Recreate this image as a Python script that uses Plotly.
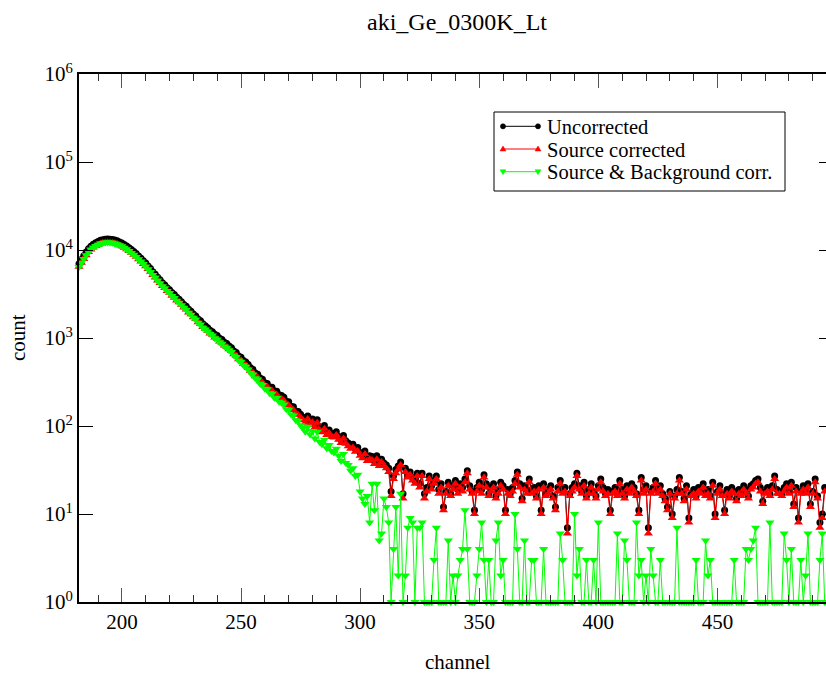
import plotly.graph_objects as go

title_text = "aki_Ge_0300K_Lt"
x_label = "channel"
y_label = "count"
series_names = ["Uncorrected", "Source corrected", "Source & Background corr."]
first_channel = 182

uncorrected = [
    7000, 7800, 8600, 9500, 10300, 11000, 11600, 12100, 12500, 12900,
    13100, 13250, 13300, 13250, 13150, 12950, 12700, 12350, 12000, 11550,
    11100, 10600, 10100, 9600, 9100, 8550, 8050, 7550, 7100, 6600,
    6150, 5660, 5300, 4900, 4580, 4240, 4010, 3730, 3540, 3290,
    3120, 2900, 2760, 2590, 2410, 2290, 2120, 2020, 1870, 1780,
    1640, 1570, 1450, 1380, 1310, 1225, 1180, 1100, 1065, 995,
    960, 895, 865, 810, 775, 710, 685, 625, 605, 555,
    535, 500, 458, 440, 400, 388, 350, 340, 310, 305,
    278, 275, 250, 248, 226, 222, 212, 190, 188, 168,
    165, 148, 146, 136, 126, 118, 130, 112, 120, 104,
    118, 98, 92, 101, 86, 90, 82, 80, 86, 76,
    70, 78, 68, 64, 60, 62, 55, 57, 50, 47,
    52, 44, 46, 45, 40, 46, 38, 42, 38, 36,
    33, 18, 27, 32, 35, 39, 17, 33, 28, 30,
    26, 24, 29, 22, 29, 17, 20, 27, 21, 24,
    27, 19, 22, 12, 18, 23, 17, 21, 24, 19,
    22, 20, 25, 31, 21, 18, 11, 20, 23, 19,
    28, 22, 17, 20, 22, 16, 19, 23, 21, 11,
    19, 17, 20, 24, 30, 22, 15, 21, 19, 25,
    18, 20, 16, 21, 11, 22, 17, 19, 21, 16,
    12, 20, 24, 19, 20, 7, 17, 20, 22, 29,
    21, 18, 23, 16, 19, 22, 18, 16, 21, 25,
    20, 17, 19, 11, 18, 20, 17, 24, 19, 16,
    21, 18, 22, 20, 17, 11, 26, 19, 21, 7,
    18, 20, 24, 19, 21, 17, 15, 12, 18, 10,
    16, 19, 26, 18, 15, 21, 9, 17, 19, 16,
    20, 18, 22, 17, 19, 16, 23, 10, 18, 21,
    17, 11, 19, 16, 20, 18, 15, 19, 17, 21,
    19, 16, 21, 22, 24, 25, 20, 14, 18, 20,
    17, 21, 27, 19, 18, 17, 20, 22, 18, 23,
    13, 20, 9, 18, 21, 19, 22, 13, 18, 25,
    16, 8, 10, 20, 22, 19, 18,
]

source_corrected = [
    6440, 7180, 7910, 8740, 9480, 10120, 10670, 11130, 11500, 11870,
    12050, 12190, 12240, 12190, 12100, 11910, 11680, 11360, 11040, 10630,
    10210, 9750, 9290, 8830, 8370, 7870, 7410, 6950, 6530, 6070,
    5660, 5210, 4880, 4510, 4210, 3900, 3690, 3430, 3260, 3030,
    2870, 2670, 2540, 2380, 2220, 2110, 1950, 1860, 1720, 1640,
    1510, 1440, 1330, 1270, 1205, 1127, 1086, 1012, 980, 915,
    883, 823, 796, 745, 713, 653, 630, 575, 557, 511,
    492, 460, 421, 405, 368, 357, 322, 313, 285, 281,
    256, 253, 230, 228, 208, 204, 195, 175, 173, 155,
    152, 136, 134, 125, 116, 109, 120, 103, 110, 96,
    109, 90, 85, 93, 79, 83, 75, 74, 79, 70,
    64, 72, 63, 59, 55, 57, 51, 52, 46, 43,
    48, 40, 42, 41, 37, 42, 35, 39, 35, 33,
    30, 16, 25, 29, 32, 36, 15, 30, 26, 28,
    24, 22, 27, 20, 27, 15, 18, 25, 19, 22,
    25, 17, 20, 11, 17, 21, 16, 19, 22, 17,
    20, 18, 23, 29, 19, 17, 10, 18, 21, 17,
    26, 20, 16, 18, 20, 15, 17, 21, 19, 10,
    17, 16, 18, 22, 28, 20, 14, 19, 17, 23,
    17, 18, 15, 19, 10, 20, 16, 17, 19, 15,
    11, 18, 22, 17, 18, 6, 16, 18, 20, 27,
    19, 17, 21, 15, 17, 20, 17, 15, 19, 23,
    18, 16, 17, 10, 17, 18, 16, 22, 17, 15,
    19, 17, 20, 18, 16, 10, 24, 17, 19, 6,
    17, 18, 22, 17, 19, 16, 14, 11, 17, 9,
    15, 17, 24, 17, 14, 19, 8, 16, 17, 15,
    18, 17, 20, 16, 17, 15, 21, 9, 17, 19,
    16, 10, 17, 15, 18, 17, 14, 17, 16, 19,
    17, 15, 19, 20, 22, 23, 18, 13, 17, 18,
    16, 19, 25, 17, 17, 16, 18, 20, 17, 21,
    12, 18, 8, 17, 19, 17, 20, 12, 17, 23,
    15, 7, 9, 18, 20, 17, 17,
]

source_background_corrected = [
    6420, 7160, 7890, 8720, 9460, 10100, 10650, 11110, 11480, 11850,
    12030, 12170, 12220, 12170, 12080, 11890, 11660, 11340, 11020, 10610,
    10190, 9730, 9270, 8810, 8350, 7850, 7390, 6930, 6510, 6050,
    5640, 5190, 4860, 4490, 4190, 3880, 3670, 3410, 3240, 3010,
    2850, 2650, 2520, 2360, 2200, 2090, 1930, 1840, 1700, 1620,
    1490, 1420, 1310, 1250, 1185, 1107, 1066, 992, 960, 895,
    863, 803, 776, 725, 693, 633, 610, 555, 537, 491,
    472, 440, 401, 385, 348, 337, 302, 293, 265, 261,
    236, 233, 210, 208, 188, 184, 175, 155, 153, 135,
    132, 116, 114, 102, 95, 86, 98, 80, 88, 72,
    86, 66, 62, 70, 56, 61, 52, 50, 55, 46,
    40, 48, 38, 36, 31, 33, 27, 28, 18, 15,
    13, 16, 8, 22, 11, 22, 5, 6, 15, 12,
    8, 1, 4, 12, 2, 17, 1, 2, 7, 9,
    8, 1, 7, 7, 8, 1, 1, 1, 1, 3,
    7, 1, 1, 1, 1, 5, 1, 2, 1, 2,
    3, 4, 11, 4, 1, 1, 1, 2, 4, 8,
    3, 1, 3, 1, 1, 5, 8, 2, 3, 1,
    1, 1, 1, 10, 4, 1, 1, 5, 1, 1,
    3, 3, 1, 1, 1, 4, 1, 1, 1, 1,
    1, 1, 6, 3, 1, 1, 1, 1, 10, 2,
    4, 1, 1, 3, 1, 1, 3, 1, 8, 1,
    1, 1, 1, 1, 1, 1, 6, 1, 1, 5,
    3, 1, 1, 1, 8, 2, 3, 1, 2, 1,
    4, 2, 1, 1, 3, 1, 1, 1, 1, 1,
    1, 7, 1, 1, 1, 1, 1, 1, 1, 3,
    1, 1, 1, 5, 2, 3, 1, 1, 1, 1,
    1, 1, 1, 1, 1, 3, 1, 1, 1, 1,
    4, 3, 4, 5, 7, 1, 1, 1, 1, 1,
    8, 1, 1, 1, 1, 1, 6, 3, 1, 4,
    1, 1, 1, 3, 1, 2, 6, 1, 1, 1,
    1, 3, 6, 1, 1, 1, 1,
]

x_tick_vals = [200, 250, 300, 350, 400, 450]
y_tick_vals = [1, 10, 100, 1000, 10000, 100000, 1000000]
y_tick_text = ["10<sup>0</sup>", "10<sup>1</sup>", "10<sup>2</sup>", "10<sup>3</sup>",
               "10<sup>4</sup>", "10<sup>5</sup>", "10<sup>6</sup>"]

FONT = "Liberation Serif"
W, H = 826, 674
ML, MR, MT, MB = 79, 0, 74, 72
PW, PH = W - ML - MR, H - MT - MB
px_per_ch = 2.3824
x_min = 182
x_max = x_min + PW / px_per_ch


def chans(vals):
    return list(range(first_channel, first_channel + len(vals)))


def fx(px):
    return (px - ML) / PW


def fy(py):
    return (H - MB - py) / PH


fig = go.Figure()
colors = ["#000000", "#ff0000", "#00ff00"]
symbols = ["circle", "triangle-up", "triangle-down"]
sizes = [7, 8, 8]
for name, vals, col, sym, sz in zip(series_names,
                                     [uncorrected, source_corrected, source_background_corrected],
                                     colors, symbols, sizes):
    fig.add_trace(go.Scatter(
        x=chans(vals), y=vals, name=name, mode="lines+markers",
        line=dict(color=col, width=1),
        marker=dict(color=col, symbol=sym, size=sz, line=dict(width=0)),
        cliponaxis=False, showlegend=False,
    ))

# helper trace so the right-hand tick axis is drawn
fig.add_trace(go.Scatter(x=[None], y=[None], yaxis="y2", showlegend=False, hoverinfo="skip"))

# ---- hand-drawn legend box (xmgrace style: line with a marker at each end) ----
LEG_L, LEG_R, LEG_T, LEG_B = 494, 785, 112, 191
row_y0, row_dy = 126.3, 22.7
sym_x0, sym_x1, text_x = 503, 538, 545
shapes = [dict(type="rect", xref="paper", yref="paper",
               x0=fx(LEG_L), x1=fx(LEG_R), y0=fy(LEG_B), y1=fy(LEG_T),
               line=dict(color="black", width=1), fillcolor="white", layer="above")]
annotations = []
for i, (name, col, sym) in enumerate(zip(series_names, colors, symbols)):
    ry = row_y0 + i * row_dy
    shapes.append(dict(type="line", xref="paper", yref="paper",
                       x0=fx(sym_x0), x1=fx(sym_x1), y0=fy(ry), y1=fy(ry),
                       line=dict(color=col, width=1), layer="above"))
    for mx in (sym_x0, sym_x1):
        if sym == "circle":
            r = 2.6
            shapes.append(dict(type="circle", xref="paper", yref="paper",
                               x0=fx(mx - r), x1=fx(mx + r), y0=fy(ry + r), y1=fy(ry - r),
                               fillcolor=col, line=dict(color=col, width=0.5), layer="above"))
        else:
            d = -1 if sym == "triangle-up" else 1
            pts = [(mx - 3, ry - 2 * d), (mx + 3, ry - 2 * d), (mx, ry + 3 * d)]
            path = "M {} {} L {} {} L {} {} Z".format(
                fx(pts[0][0]), fy(pts[0][1]), fx(pts[1][0]), fy(pts[1][1]),
                fx(pts[2][0]), fy(pts[2][1]))
            shapes.append(dict(type="path", xref="paper", yref="paper", path=path,
                               fillcolor=col, line=dict(color=col, width=0.5), layer="above"))
    annotations.append(dict(text=name, x=fx(text_x), y=fy(ry + 1), xref="paper", yref="paper",
                            showarrow=False, xanchor="left", yanchor="middle",
                            font=dict(family=FONT, size=20.5, color="black")))

axis_font = dict(family=FONT, size=21, color="black")

annotations += [
    dict(text=x_label, x=fx(457), y=fy(662),
         xref="paper", yref="paper", showarrow=False, xanchor="center", yanchor="middle",
         font=dict(family=FONT, size=21, color="black")),
    dict(text=y_label, x=fx(18), y=0.5, textangle=-90,
         xref="paper", yref="paper", showarrow=False, xanchor="center", yanchor="middle",
         font=dict(family=FONT, size=21, color="black")),
]

fig.update_layout(
    width=W, height=H,
    margin=dict(l=ML, r=MR, t=MT, b=MB),
    paper_bgcolor="white", plot_bgcolor="white",
    font=dict(family=FONT, size=21, color="black"),
    title=dict(text=title_text, x=fx(457), xref="paper", xanchor="center",
               y=1 - 22 / H, yref="container", yanchor="middle",
               font=dict(family=FONT, size=24, color="black")),
    showlegend=False,
    xaxis=dict(range=[x_min, x_max], showgrid=False, zeroline=False,
               showline=True, linecolor="black", linewidth=2, mirror="ticks",
               ticks="inside", ticklen=14, tickwidth=1, tickcolor="#555555",
               tickvals=x_tick_vals, ticktext=[str(v) for v in x_tick_vals],
               tickfont=axis_font,
               minor=dict(dtick=10, ticks="inside", ticklen=7, tickwidth=1, tickcolor="#333333",
                          showgrid=False)),
    yaxis=dict(type="log", range=[0, 6], showgrid=False, zeroline=False,
               showline=True, linecolor="black", linewidth=2, mirror=False,
               ticks="inside", ticklen=14, tickwidth=1, tickcolor="black",
               tickvals=y_tick_vals, ticktext=y_tick_text, tickfont=axis_font),
    yaxis2=dict(type="log", range=[0, 6], overlaying="y", side="right",
                showgrid=False, zeroline=False, showline=False,
                ticks="inside", ticklen=7, tickwidth=1, tickcolor="black",
                tickvals=y_tick_vals, showticklabels=False),
    shapes=shapes,
    annotations=annotations,
)

fig.write_html("out.html")
